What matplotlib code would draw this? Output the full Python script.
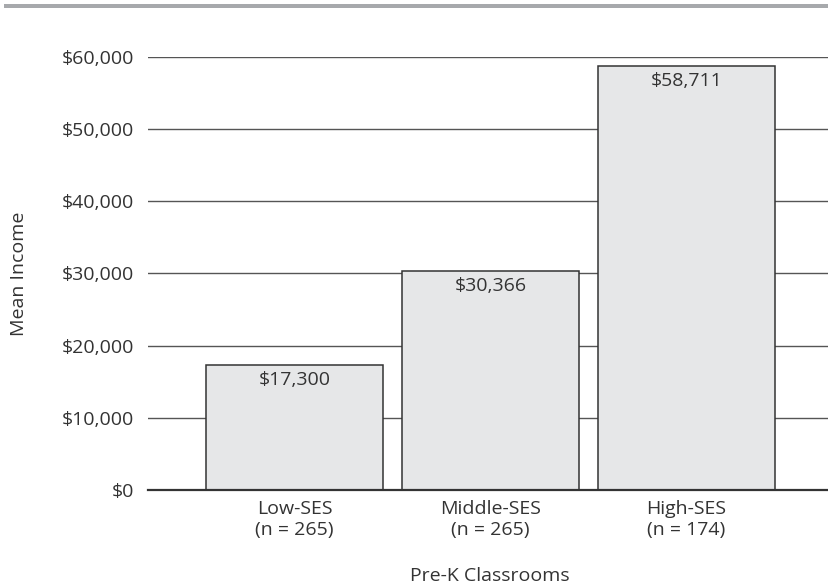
import matplotlib.pyplot as plt
from matplotlib.patches import Rectangle
from matplotlib.ticker import FuncFormatter

plt.rcParams['font.family'] = ['Open Sans', 'DejaVu Sans']

groups = ['Low-SES', 'Middle-SES', 'High-SES']
sizes = [265, 265, 174]
mean_income = [17300, 30366, 58711]
y_ticks = [0, 10000, 20000, 30000, 40000, 50000, 60000]

text_color = '#333333'
fs = 14

fig = plt.figure(figsize=(8.29, 5.85), dpi=100)
ax = fig.add_axes([0.1785, 0.1624, 0.8215, 0.7402])

# gray rule across the top of the figure
fig.patches.append(Rectangle((0.005, 0.986), 0.995, 0.007, transform=fig.transFigure,
                             facecolor='#a7a9ac', edgecolor='none'))

x = range(len(groups))
bars = ax.bar(x, mean_income, width=0.9, color='#e6e7e8', edgecolor='#333333',
              linewidth=1.1, zorder=3)

for b, v in zip(bars, mean_income):
    ax.text(b.get_x() + b.get_width() / 2, v - 850, '${:,}'.format(v),
            ha='center', va='top', fontsize=fs, color=text_color, zorder=4)

ax.set_xlim(-0.747, 2.727)
ax.set_ylim(0, 60000)
ax.set_yticks(y_ticks)
ax.yaxis.set_major_formatter(FuncFormatter(lambda v, p: '${:,.0f}'.format(v)))
ax.set_xticks(list(x))
ax.set_xticklabels(['{}\n(n = {})'.format(g, n) for g, n in zip(groups, sizes)],
                   linespacing=1.2)
ax.tick_params(axis='both', length=0, labelsize=fs, colors=text_color)
ax.tick_params(axis='y', pad=10)
ax.tick_params(axis='x', pad=7)

ax.yaxis.grid(True, color='#555555', linewidth=1.0, zorder=0)
ax.set_axisbelow(True)
for s in ['top', 'right', 'left']:
    ax.spines[s].set_visible(False)
ax.spines['bottom'].set_color('#333333')
ax.spines['bottom'].set_linewidth(1.6)
ax.spines['bottom'].set_zorder(5)

ax.set_ylabel('Mean Income', fontsize=fs, color=text_color)
ax.set_xlabel('Pre-K Classrooms', fontsize=fs, color=text_color)
ax.yaxis.set_label_coords(-0.176, 0.5)
ax.xaxis.set_label_coords(0.502, -0.178)

fig.savefig('out.png', dpi=100)
